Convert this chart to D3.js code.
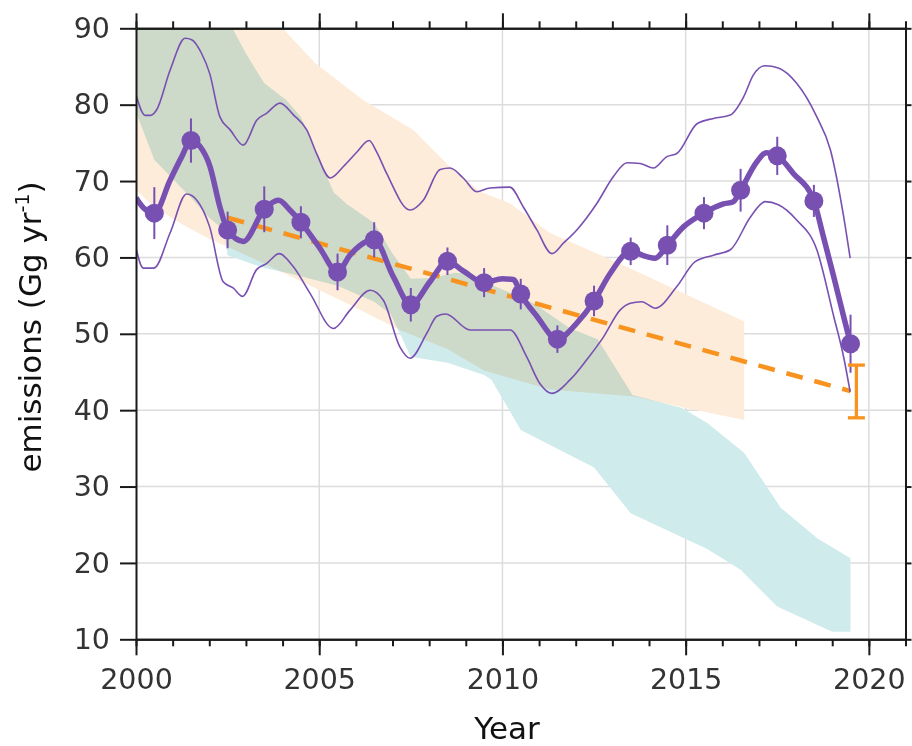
<!DOCTYPE html>
<html>
<head>
<meta charset="utf-8">
<script src="https://cdn.jsdelivr.net/npm/d3@7"></script>
<style>
body { margin: 0; background: #fff; }
svg { display: block; font-family: "DejaVu Sans", Verdana, sans-serif; }
.axis path, .axis line { stroke: #1a1a1a; stroke-width: 2; }
.axis text { fill: #333; font-size: 28.5px; font-family: "DejaVu Sans", Verdana, sans-serif; }
</style>
</head>
<body>
<svg id="chart" width="912" height="746"></svg>
<script>
// annual means with 1-sigma bars
var annualYears = [2000.5, 2001.5, 2002.5, 2003.5, 2004.5, 2005.5, 2006.5, 2007.5, 2008.5, 2009.5,
                   2010.5, 2011.5, 2012.5, 2013.5, 2014.5, 2015.5, 2016.5, 2017.5, 2018.5, 2019.5];
var annualValues = [65.8, 75.3, 63.6, 66.3, 64.6, 58.1, 62.3, 53.8, 59.5, 56.7,
                    55.2, 49.3, 54.3, 60.8, 61.6, 65.8, 68.8, 73.3, 67.4, 48.7];
var annualErrors = [3.4, 2.9, 2.4, 3.0, 2.1, 2.4, 2.3, 2.2, 1.8, 1.9,
                    2.0, 1.8, 2.0, 1.8, 2.6, 2.1, 2.8, 2.5, 2.1, 3.8];

// running mean (thick line)
var meanLine = [[2000.0, 67.8], [2000.2, 66.5], [2000.5, 65.8], [2000.93, 70.1], [2001.25, 73.2], [2001.5, 75.3],
  [2001.75, 74.5], [2002.02, 71.9], [2002.29, 66.6], [2002.5, 63.6], [2002.93, 62.1], [2003.5, 66.3],
  [2003.89, 67.5], [2004.2, 66.2], [2004.5, 64.6], [2005.02, 61.2], [2005.5, 58.1], [2005.84, 60.3],
  [2006.3, 62.1], [2006.5, 62.3], [2007.02, 57.5], [2007.5, 53.8], [2008.02, 56.8], [2008.5, 59.5],
  [2008.94, 58.2], [2009.5, 56.7], [2010.0, 57.2], [2010.3, 57.1], [2010.5, 55.2], [2010.94, 52.3],
  [2011.5, 49.3], [2012.03, 51.4], [2012.5, 54.3], [2012.94, 57.9], [2013.5, 60.8], [2013.94, 60.1],
  [2014.17, 59.9], [2014.5, 61.6], [2014.94, 64.0], [2015.5, 65.8], [2016.03, 67.0], [2016.3, 67.3],
  [2016.5, 68.8], [2016.94, 72.5], [2017.2, 73.7], [2017.5, 73.3], [2017.94, 71.0], [2018.5, 67.4],
  [2018.76, 62.7], [2019.04, 57.5], [2019.31, 52.3], [2019.5, 48.7]];

// upper / lower envelope (thin lines)
var upperLine = [[2000.0, 81.3], [2000.25, 78.6], [2000.4, 78.6], [2000.56, 79.3], [2000.93, 84.5], [2001.34, 88.7],
  [2001.52, 88.5], [2001.79, 86.7], [2002.01, 84.1], [2002.29, 78.4], [2002.57, 76.7], [2002.93, 74.7],
  [2003.3, 78.0], [2003.57, 78.9], [2003.93, 80.2], [2004.29, 78.7], [2004.66, 76.7], [2004.93, 73.6],
  [2005.3, 70.4], [2005.66, 71.9], [2006.03, 73.8], [2006.36, 75.3], [2006.57, 73.8], [2006.84, 71.0],
  [2007.48, 66.2], [2007.84, 67.5], [2008.3, 71.5], [2008.57, 71.7], [2008.93, 70.4], [2009.3, 68.6],
  [2009.66, 69.1], [2010.2, 69.2], [2010.57, 66.6], [2010.94, 63.6], [2011.35, 60.5], [2011.67, 61.9],
  [2012.03, 63.6], [2012.58, 67.1], [2013.03, 70.6], [2013.4, 72.4], [2013.76, 72.3], [2014.12, 71.7],
  [2014.49, 73.2], [2014.76, 73.6], [2015.31, 77.5], [2015.76, 78.2], [2016.22, 78.65], [2016.58, 81.0],
  [2016.85, 83.9], [2017.17, 85.1], [2017.53, 84.8], [2018.03, 82.8], [2018.58, 78.4], [2018.95, 74.1],
  [2019.31, 65.4], [2019.49, 59.9]];
var lowerLine = [[2000.0, 61.2], [2000.2, 58.6], [2000.49, 58.6], [2000.93, 63.2], [2001.38, 68.3], [2001.66, 67.5],
  [2002.01, 64.0], [2002.38, 56.8], [2002.65, 56.0], [2002.91, 54.9], [2003.29, 58.4], [2003.56, 59.2],
  [2003.91, 60.5], [2004.29, 58.8], [2004.75, 55.3], [2005.39, 50.7], [2005.84, 53.1], [2006.39, 55.7],
  [2006.75, 54.4], [2007.2, 48.3], [2007.48, 46.8], [2007.94, 50.1], [2008.21, 52.3], [2008.45, 52.6],
  [2009.12, 50.5], [2009.85, 50.5], [2010.21, 50.5], [2010.66, 47.0], [2011.02, 43.5], [2011.35, 42.2],
  [2011.85, 44.0], [2012.3, 46.6], [2012.76, 49.6], [2013.21, 53.1], [2013.49, 54.0], [2013.8, 54.2],
  [2014.17, 53.35], [2014.76, 56.2], [2015.26, 59.45], [2015.76, 60.3], [2016.22, 61.0], [2016.77, 65.3],
  [2017.17, 67.3], [2017.53, 66.9], [2018.03, 64.9], [2018.58, 61.0], [2019.04, 52.3], [2019.31, 47.0],
  [2019.49, 42.4]];

// shaded ranges
var peachUpper = [[2000.0, 104], [2002.0, 97], [2004.0, 90], [2004.9, 85.4], [2006.2, 80.6], [2007.57, 76.7],
  [2008.6, 71.7], [2009.4, 68.6], [2010.2, 67.1], [2011.3, 63.2], [2013.2, 59.2], [2016.6, 51.6]];
var peachLower = [[2000.0, 68.8], [2000.5, 66.6], [2001.2, 64.5], [2002.0, 62.4], [2002.5, 61.4], [2003.5, 59.2],
  [2004.1, 57.8], [2005.1, 55.5], [2006.0, 53.4], [2007.2, 50.5], [2008.5, 48.0], [2009.5, 45.2],
  [2011.3, 42.7], [2013.6, 41.8], [2015.0, 40.3], [2016.6, 38.7]];
var cyanUpper = [[2000.0, 106], [2001.5, 98], [2002.5, 91.2], [2003.0, 86.7], [2003.5, 82.8], [2004.1, 80.6],
  [2004.5, 78.4], [2005.0, 72.8], [2005.4, 68.5], [2005.75, 67.0], [2006.5, 64.5], [2007.0, 60.5],
  [2007.5, 57.2], [2008.1, 57.3], [2008.7, 58.0], [2009.0, 57.9], [2010.0, 55.8], [2010.85, 54.0],
  [2011.85, 50.7], [2012.6, 49.3], [2013.55, 42.0], [2014.9, 40.3], [2015.6, 38.3], [2016.6, 34.4],
  [2017.6, 27.2], [2018.6, 23.2], [2019.5, 20.6]];
var cyanLower = [[2000.0, 79], [2000.5, 72.8], [2001.5, 67.8], [2002.0, 65.2], [2002.4, 63.6], [2002.5, 60.3],
  [2003.5, 58.6], [2004.2, 57.9], [2005.5, 56.3], [2006.5, 54.2], [2006.95, 52.6], [2007.5, 47.0],
  [2008.5, 46.2], [2009.5, 44.6], [2009.7, 44.0], [2010.5, 37.4], [2012.5, 32.5], [2013.5, 26.5],
  [2015.6, 21.8], [2016.5, 19.1], [2017.5, 14.3], [2019.0, 11.0], [2019.5, 11.0]];

// linear trend and its extrapolated range
var trendYears = [2002.5, 2019.5];
var trendValues = [65.2, 42.5];
var projYear = 2019.66, projLow = 39.0, projHigh = 45.9;

var xMajorTicks = [2000, 2005, 2010, 2015, 2020];
var yTicks = [10, 20, 30, 40, 50, 60, 70, 80, 90];

var purple = "#7850b2", orange = "#f7931e";

var svg = d3.select("#chart");
var x = d3.scaleLinear().domain([2000, 2021]).range([136, 905.5]);
var y = d3.scaleLinear().domain([10, 90]).range([639.3, 28.3]);

svg.append("clipPath").attr("id", "plotclip")
  .append("rect").attr("x", x(2000)).attr("y", y(90))
  .attr("width", x(2021) - x(2000)).attr("height", y(10) - y(90));

// gridlines
var grid = svg.append("g");
grid.selectAll(".gx").data([2005, 2010, 2015, 2020]).enter().append("line")
  .attr("x1", function(d) { return x(d); }).attr("x2", function(d) { return x(d); })
  .attr("y1", y(10)).attr("y2", y(90))
  .attr("stroke", "#dcdcdc").attr("stroke-width", 1.5);
grid.selectAll(".gy").data([20, 30, 40, 50, 60, 70, 80]).enter().append("line")
  .attr("y1", function(d) { return y(d); }).attr("y2", function(d) { return y(d); })
  .attr("x1", x(2000)).attr("x2", x(2021))
  .attr("stroke", "#dcdcdc").attr("stroke-width", 1.5);

var plot = svg.append("g").attr("clip-path", "url(#plotclip)");

var poly = d3.line().x(function(d) { return x(d[0]); }).y(function(d) { return y(d[1]); });
function band(up, lo) {
  return poly(up.concat(lo.slice().reverse())) + "Z";
}

plot.append("path").attr("d", band(peachUpper, peachLower))
  .attr("fill", "#fdecd9").style("mix-blend-mode", "multiply");
plot.append("path").attr("d", band(cyanUpper, cyanLower))
  .attr("fill", "#cfebec").style("mix-blend-mode", "multiply");

// trend
plot.append("path")
  .attr("d", poly(trendYears.map(function(t, i) { return [t, trendValues[i]]; })))
  .attr("fill", "none").attr("stroke", orange).attr("stroke-width", 4.5)
  .attr("stroke-dasharray", "17,12");

var smooth = d3.line().curve(d3.curveMonotoneX)
  .x(function(d) { return x(d[0]); }).y(function(d) { return y(d[1]); });

[upperLine, lowerLine].forEach(function(l) {
  plot.append("path").attr("d", smooth(l))
    .attr("fill", "none").attr("stroke", purple).attr("stroke-width", 1.6);
});

plot.append("path").attr("d", smooth(meanLine))
  .attr("fill", "none").attr("stroke", purple).attr("stroke-width", 5.5)
  .attr("stroke-linejoin", "round");

// annual points
var pts = annualYears.map(function(t, i) { return { t: t, v: annualValues[i], e: annualErrors[i] }; });
plot.selectAll(".err").data(pts).enter().append("line")
  .attr("x1", function(d) { return x(d.t); }).attr("x2", function(d) { return x(d.t); })
  .attr("y1", function(d) { return y(d.v + d.e); }).attr("y2", function(d) { return y(d.v - d.e); })
  .attr("stroke", purple).attr("stroke-width", 2);
plot.selectAll(".dot").data(pts).enter().append("circle")
  .attr("cx", function(d) { return x(d.t); }).attr("cy", function(d) { return y(d.v); })
  .attr("r", 9.5).attr("fill", purple);

// projected range
var proj = svg.append("g").attr("stroke", orange).attr("stroke-width", 3.3);
proj.append("line").attr("x1", x(projYear)).attr("x2", x(projYear))
  .attr("y1", y(projHigh)).attr("y2", y(projLow));
[projHigh, projLow].forEach(function(v) {
  proj.append("line").attr("x1", x(projYear) - 8.5).attr("x2", x(projYear) + 8.5)
    .attr("y1", y(v)).attr("y2", y(v));
});

// axes
svg.append("g").attr("class", "axis").attr("transform", "translate(0," + y(10) + ")")
  .call(d3.axisBottom(x).ticks(21).tickSize(7).tickSizeOuter(0).tickFormat(""));
svg.append("g").attr("class", "axis").attr("transform", "translate(0," + y(10) + ")")
  .call(d3.axisBottom(x).tickValues(xMajorTicks).tickSize(16).tickSizeOuter(0).tickPadding(13).tickFormat(d3.format("d")));
svg.append("g").attr("class", "axis").attr("transform", "translate(0," + y(90) + ")")
  .call(d3.axisTop(x).ticks(21).tickSize(7).tickSizeOuter(0).tickFormat(""));
svg.append("g").attr("class", "axis").attr("transform", "translate(0," + y(90) + ")")
  .call(d3.axisTop(x).tickValues(xMajorTicks).tickSize(15).tickSizeOuter(0).tickFormat(""));
svg.append("g").attr("class", "axis").attr("transform", "translate(" + x(2000) + ",0)")
  .call(d3.axisLeft(y).tickValues(yTicks).tickSize(16).tickSizeOuter(0).tickPadding(10));
svg.append("g").attr("class", "axis").attr("transform", "translate(" + x(2021) + ",0)")
  .call(d3.axisRight(y).tickValues(yTicks).tickSize(6).tickSizeOuter(0).tickFormat(""));

// axis titles
var yl = svg.append("text")
  .attr("transform", "translate(41,327) rotate(-90)")
  .attr("text-anchor", "middle").attr("fill", "#111").attr("font-size", 31);
yl.append("tspan").text("emissions (Gg yr");
yl.append("tspan").text("-1").attr("font-size", 19).attr("dy", -12);
yl.append("tspan").text(")").attr("dy", 12);

svg.append("text").attr("x", 507).attr("y", 739)
  .attr("text-anchor", "middle").attr("fill", "#111").attr("font-size", 31)
  .text("Year");
</script>
</body>
</html>
